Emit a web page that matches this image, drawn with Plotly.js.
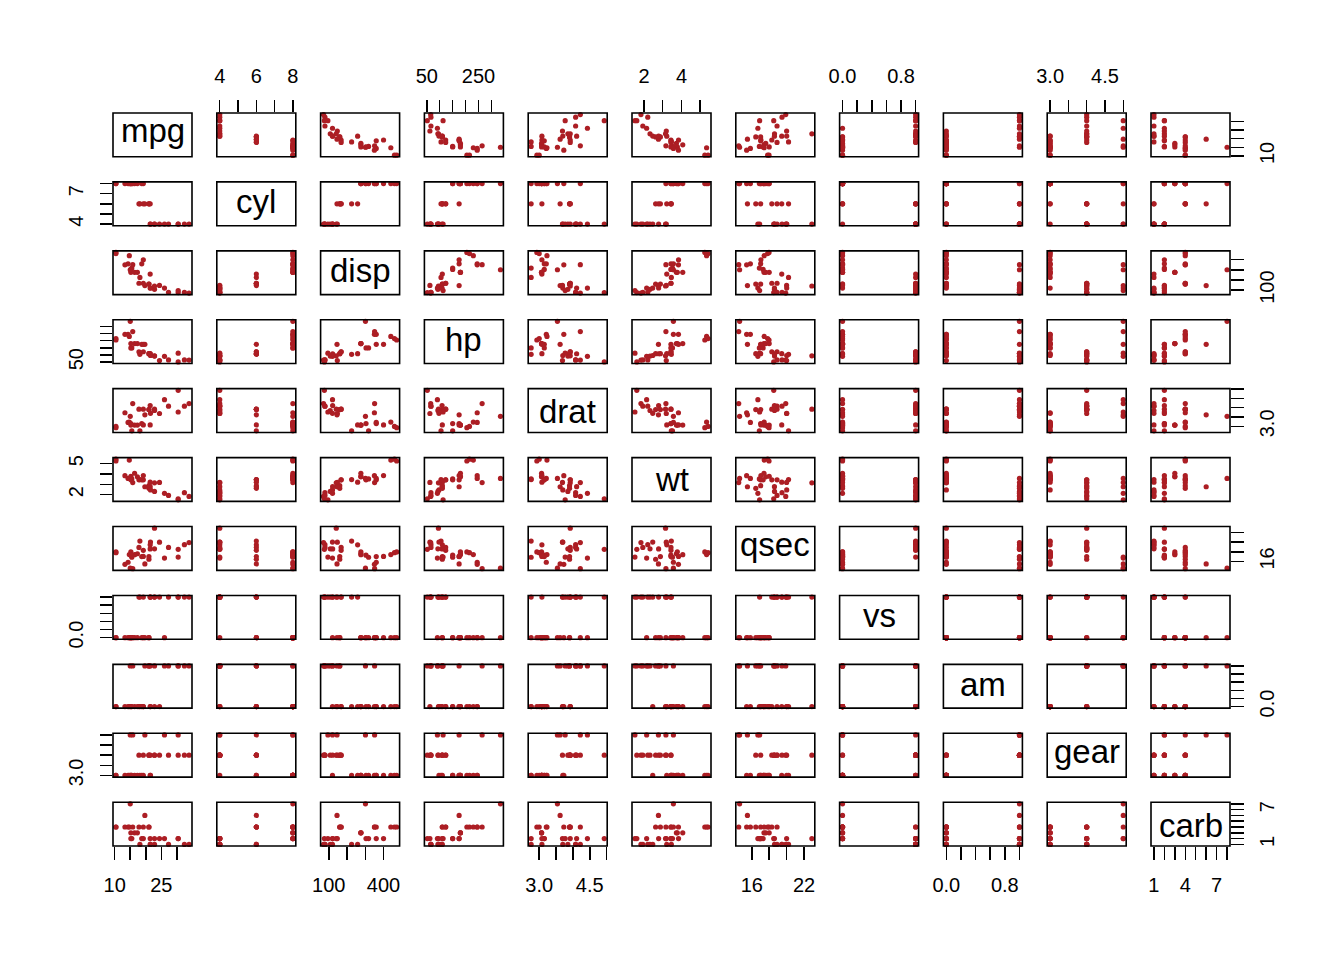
<!DOCTYPE html>
<html>
<head>
<meta charset="utf-8">
<script src="https://cdn.plot.ly/plotly-3.0.1.min.js"></script>
<style>html,body{margin:0;padding:0;background:#fff;}#chart{width:1344px;height:960px;}</style>
</head>
<body>
<div id="chart"></div>
<script>
// mtcars data
const mpg  = [21.0,21.0,22.8,21.4,18.7,18.1,14.3,24.4,22.8,19.2,17.8,16.4,17.3,15.2,10.4,10.4,14.7,32.4,30.4,33.9,21.5,15.5,15.2,13.3,19.2,27.3,26.0,30.4,15.8,19.7,15.0,21.4];
const cyl  = [6,6,4,6,8,6,8,4,4,6,6,8,8,8,8,8,8,4,4,4,4,8,8,8,8,4,4,4,8,6,8,4];
const disp = [160,160,108,258,360,225,360,146.7,140.8,167.6,167.6,275.8,275.8,275.8,472,460,440,78.7,75.7,71.1,120.1,318,304,350,400,79,120.3,95.1,351,145,301,121];
const hp   = [110,110,93,110,175,105,245,62,95,123,123,180,180,180,205,215,230,66,52,65,97,150,150,245,175,66,91,113,264,175,335,109];
const drat = [3.90,3.90,3.85,3.08,3.15,2.76,3.21,3.69,3.92,3.92,3.92,3.07,3.07,3.07,2.93,3.00,3.23,4.08,4.93,4.22,3.70,2.76,3.15,3.73,3.08,4.08,4.43,3.77,4.22,3.62,3.54,4.11];
const wt   = [2.620,2.875,2.320,3.215,3.440,3.460,3.570,3.190,3.150,3.440,3.440,4.070,3.730,3.780,5.250,5.424,5.345,2.200,1.615,1.835,2.465,3.520,3.435,3.840,3.845,1.935,2.140,1.513,3.170,2.770,3.570,2.780];
const qsec = [16.46,17.02,18.61,19.44,17.02,20.22,15.84,20.00,22.90,18.30,18.90,17.40,17.60,18.00,17.98,17.82,17.42,19.47,18.52,19.90,20.01,16.87,17.30,15.41,17.05,18.90,16.70,16.90,14.50,15.50,14.60,18.60];
const vs   = [0,0,1,1,0,1,0,1,1,1,1,0,0,0,0,0,0,1,1,1,1,0,0,0,0,1,0,1,0,0,0,1];
const am   = [1,1,1,0,0,0,0,0,0,0,0,0,0,0,0,0,0,1,1,1,0,0,0,0,0,1,1,1,1,1,1,1];
const gear = [4,4,4,3,3,3,3,4,4,4,4,3,3,3,3,3,3,4,4,4,3,3,3,3,3,4,5,5,5,5,5,4];
const carb = [4,4,1,1,2,1,4,2,2,4,4,3,3,3,4,4,4,1,2,1,1,2,2,4,2,1,2,2,4,6,8,2];

const varNames = ['mpg','cyl','disp','hp','drat','wt','qsec','vs','am','gear','carb'];
const varData  = [mpg,cyl,disp,hp,drat,wt,qsec,vs,am,gear,carb];

// tick positions and visible labels
const tickVals = [
  [10,15,20,25,30],
  [4,5,6,7,8],
  [100,200,300,400],
  [50,100,150,200,250,300],
  [3.0,3.5,4.0,4.5,5.0],
  [2,3,4,5],
  [16,18,20,22],
  [0,0.2,0.4,0.6,0.8,1.0],
  [0,0.2,0.4,0.6,0.8,1.0],
  [3.0,3.5,4.0,4.5,5.0],
  [1,2,3,4,5,6,7,8]
];
const xTickText = [
  ['10','','','25',''],
  ['4','','6','','8'],
  ['100','','','400'],
  ['50','','','','250',''],
  ['3.0','','','4.5',''],
  ['2','','4',''],
  ['16','','','22'],
  ['0.0','','','','0.8',''],
  ['0.0','','','','0.8',''],
  ['3.0','','','4.5',''],
  ['1','','','4','','','7','']
];
const yTickText = [
  ['10','','','',''],
  ['4','','','7',''],
  ['100','','',''],
  ['50','','','','',''],
  ['3.0','','','',''],
  ['2','','','5'],
  ['16','','',''],
  ['0.0','','','','',''],
  ['0.0','','','','',''],
  ['3.0','','','',''],
  ['1','','','','','','7','']
];
// vertical nudge of diagonal labels (px) to centre the ink like R does
const labelShift = [4,2,2,2,-1,0,4,2,2,4,-1];

const N = varNames.length;
const W = 1344, H = 960;
const mL = 113, mR = 114, mT = 113, mB = 114;
const pw = W - mL - mR, ph = H - mT - mB;
const gx = 24.8, gy = 25.1;
const cw = (pw - gx*(N-1))/N, chh = (ph - gy*(N-1))/N;

const font = {family: 'Liberation Sans, Arial, Helvetica, sans-serif', color: '#000'};
const layout = {
  width: W, height: H,
  margin: {l: mL, r: mR, t: mT, b: mB},
  paper_bgcolor: '#fff', plot_bgcolor: '#fff',
  showlegend: false,
  shapes: [], annotations: []
};

function rng(a){
  const mn = Math.min(...a), mx = Math.max(...a);
  const p = (mx - mn)*0.04;
  return [mn - p, mx + p];
}
const axName = (k) => (k === 0 ? '' : String(k+1));

for (let k = 0; k < N; k++){
  const xd = [(k*(cw+gx))/pw, (k*(cw+gx)+cw)/pw];
  const yTop = 1 - (k*(chh+gy))/ph;
  const yd = [yTop - chh/ph, yTop];
  const evenCol = (k % 2 === 1); // columns 2,4,... -> top axis
  layout['xaxis'+axName(k)] = {
    domain: xd, range: rng(varData[k]),
    anchor: 'y' + (evenCol ? axName(0) : axName(N-1)),
    side: evenCol ? 'top' : 'bottom',
    showgrid: false, zeroline: false, showline: false,
    ticks: 'outside', ticklen: 12.5, tickwidth: 1.5, tickcolor: '#000',
    tickmode: 'array', tickvals: tickVals[k], ticktext: xTickText[k],
    tickfont: Object.assign({size: 20}, font),
    ticklabelstandoff: evenCol ? 9 : 8, fixedrange: true
  };
  const leftRow = (k % 2 === 1); // rows 2,4,... -> left axis
  layout['yaxis'+axName(k)] = {
    domain: yd, range: rng(varData[k]),
    anchor: 'x' + (leftRow ? axName(0) : axName(N-1)),
    side: leftRow ? 'left' : 'right',
    showgrid: false, zeroline: false, showline: false,
    ticks: 'outside', ticklen: 12.5, tickwidth: 1.5, tickcolor: '#000',
    tickmode: 'array', tickvals: tickVals[k], ticktext: yTickText[k],
    tickangle: -90,
    tickfont: Object.assign({size: 20}, font),
    ticklabelstandoff: leftRow ? 9 : 6, fixedrange: true
  };
}

const traces = [];
for (let i = 0; i < N; i++){
  for (let j = 0; j < N; j++){
    layout.shapes.push({
      type: 'rect', xref: 'x'+axName(j)+' domain', yref: 'y'+axName(i)+' domain',
      x0: 0, x1: 1, y0: 0, y1: 1,
      line: {color: '#000', width: 1.6}, fillcolor: 'rgba(0,0,0,0)', layer: 'above'
    });
    if (i === j){
      layout.annotations.push({
        xref: 'x'+axName(j)+' domain', yref: 'y'+axName(i)+' domain',
        x: 0.5, y: 0.5, xanchor: 'center', yanchor: 'middle',
        text: varNames[i], showarrow: false, yshift: labelShift[i],
        font: Object.assign({size: 33}, font)
      });
    } else {
      traces.push({
        type: 'scatter', mode: 'markers',
        x: varData[j], y: varData[i],
        xaxis: 'x'+axName(j), yaxis: 'y'+axName(i),
        marker: {color: '#AC1E24', size: 5.2, line: {width: 0}},
        hoverinfo: 'skip', cliponaxis: false
      });
    }
  }
}

Plotly.newPlot('chart', traces, layout, {staticPlot: true, displayModeBar: false});
</script>
</body>
</html>
